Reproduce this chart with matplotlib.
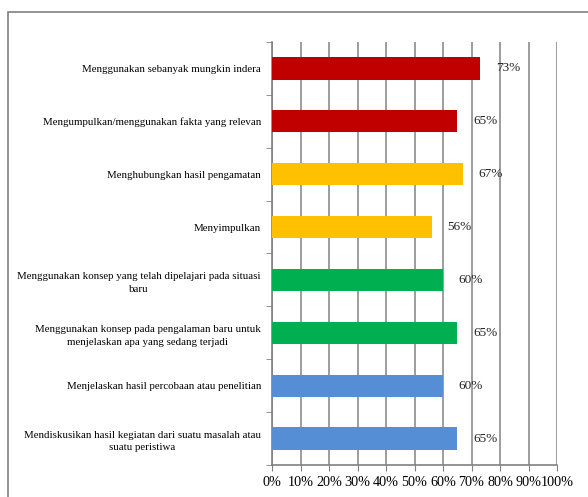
import matplotlib.pyplot as plt
import matplotlib.patches as patches
import numpy as np

plt.rcParams['font.family'] = ['Liberation Serif', 'DejaVu Serif']

categories = [
    'Menggunakan sebanyak mungkin indera',
    'Mengumpulkan/menggunakan fakta yang relevan',
    'Menghubungkan hasil pengamatan',
    'Menyimpulkan',
    'Menggunakan konsep yang telah dipelajari pada situasi\nbaru',
    'Menggunakan konsep pada pengalaman baru untuk\nmenjelaskan apa yang sedang terjadi',
    'Menjelaskan hasil percobaan atau penelitian',
    'Mendiskusikan hasil kegiatan dari suatu masalah atau\nsuatu peristiwa',
]
values = [73, 65, 67, 56, 60, 65, 60, 65]
colors = ['#C00000', '#C00000', '#FFC000', '#FFC000',
          '#00B050', '#00B050', '#558ED5', '#558ED5']

fig = plt.figure(figsize=(5.88, 4.97), dpi=100)
ax = fig.add_axes([0.4626, 0.0644, 0.4847, 0.8511])

# outer chart border (cut off at right and bottom like the source)
fig.patches.append(patches.Rectangle((0.0136, -0.1), 1.2, 1.076, transform=fig.transFigure,
                                     fill=False, edgecolor='#808080', linewidth=1.2))

y = np.arange(len(categories))
ax.barh(y, values, height=0.42, color=colors, zorder=3)

for yi, v in zip(y, values):
    ax.text(v + 5.5, yi, f'{v}%', va='center', ha='left', fontsize=9.5, color='#222222', zorder=4)

ax.set_ylim(len(categories) - 0.5, -0.5)
ax.set_xlim(0, 100)
ax.set_xticks(np.arange(0, 101, 10))
ax.set_xticklabels([f'{t}%' for t in range(0, 101, 10)], fontsize=10.2)
ax.set_yticks(y)
ax.set_yticklabels(categories, fontsize=7.8, multialignment='center', linespacing=1.55)
ax.set_yticks(np.arange(-0.5, len(categories), 1), minor=True)
ax.tick_params(axis='y', which='major', length=0, pad=8)
ax.tick_params(axis='y', which='minor', length=4, color='#808080')
ax.tick_params(axis='x', length=4, color='#808080', pad=4)

ax.grid(axis='x', color='#8c8c8c', linewidth=1.2, zorder=0)
for s in ['top', 'right']:
    ax.spines[s].set_visible(False)
for s in ['left', 'bottom']:
    ax.spines[s].set_color('#808080')
    ax.spines[s].set_linewidth(1.2)

fig.savefig('out.png', dpi=100)
